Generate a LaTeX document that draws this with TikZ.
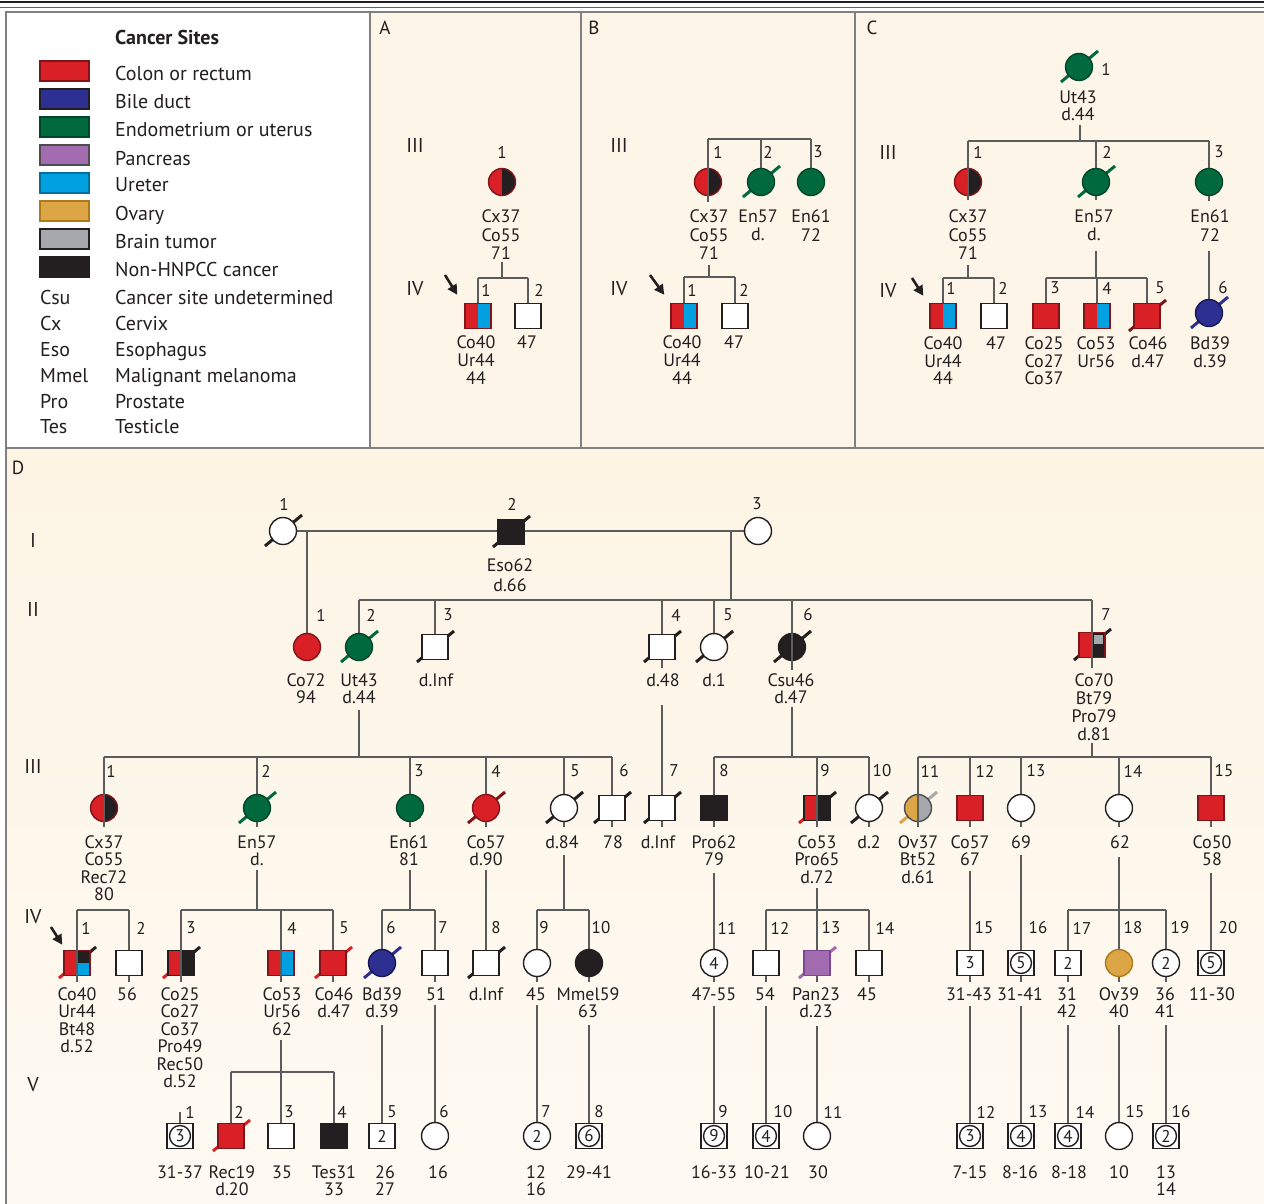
\documentclass[tikz,border=0pt]{standalone}
\usepackage{fontspec}
\setmainfont{PT Sans}
\usetikzlibrary{arrows.meta}
\pgfdeclarelayer{back}
\pgfdeclarelayer{bg}
\pgfsetlayers{back,bg,main}
\definecolor{cream}{RGB}{253,245,232}
\definecolor{creamT}{RGB}{253,244,228}
\definecolor{creamB}{RGB}{254,250,243}
\definecolor{framec}{RGB}{128,128,128}
\definecolor{connc}{RGB}{92,92,92}
\definecolor{txt}{RGB}{35,31,32}
\definecolor{cRed}{RGB}{218,32,39}
\definecolor{cRedD}{RGB}{128,20,24}
\definecolor{cNavy}{RGB}{45,48,145}
\definecolor{cNavyD}{RGB}{22,22,80}
\definecolor{cGreen}{RGB}{0,106,62}
\definecolor{cGreenD}{RGB}{0,70,40}
\definecolor{cPurple}{RGB}{163,108,176}
\definecolor{cPurpleD}{RGB}{125,70,145}
\definecolor{cBlue}{RGB}{0,160,225}
\definecolor{cOrange}{RGB}{220,165,70}
\definecolor{cOrangeD}{RGB}{175,120,25}
\definecolor{cGray}{RGB}{165,168,172}
\definecolor{cBlack}{RGB}{35,31,32}
\newcounter{lbl}
\newcommand\Lb[4][17.4]{\stepcounter{lbl}\node[lab,font=\fontsize{18}{#1}\selectfont] (lb\arabic{lbl}) at (#2,#3-6.5) {#4};}
\newcommand\Nm[3]{\stepcounter{lbl}\node[num] (nm\arabic{lbl}) at (#1,#2) {#3};}
\newcommand\Gl[3]{\stepcounter{lbl}\node[gen] (gl\arabic{lbl}) at (#1,#2) {#3};}
\newcommand\SL[2]{\draw[sl,#2] ([shift={(-18,15)}]#1.center) -- ([shift={(19,-16)}]#1.center);}
\newcommand\SLL[2]{\draw[sl,#2] (#1.center) -- ([shift={(-18,15)}]#1.center);}
\newcommand\SUR[2]{\draw[sl,#2] (#1.center) -- ([shift={(19,-16)}]#1.center);}
\newcommand\Dr[2]{\draw[conn] (#1 |- #2) -- (#1.center);}
\newcommand\Ds[3]{\draw[conn] (#1 |- #2) -- ([shift={(0,#3)}]#1.center);}
\newcommand\Br[3]{\draw[conn] (#1 |- #3) -- (#2 |- #3);}
\newcommand\St[2]{\draw[conn] (#1) -- (#2);}
\newcommand\Th[1]{\draw[conn,line width=1.7pt] (#1.north) -- (#1.south);}
\begin{document}
\begin{tikzpicture}[x=1pt,y=-1pt,
 conn/.style={draw=connc,line width=2.5pt},
 sl/.style={line width=3pt},
 person/.style={inner sep=0pt,line width=1.4pt,draw=txt,fill=white,text=txt,font=\fontsize{17}{17}\selectfont},
 sq/.style={person,rectangle,minimum width=26pt,minimum height=25pt},
 ci/.style={person,circle,minimum size=27pt},
 sqc/.style={sq,line width=1.8pt,path picture={\draw[txt,line width=1.4pt] (path picture bounding box.center) circle (10.5pt);}},
 fR/.style={fill=cRed,draw=cRedD},
 fG/.style={fill=cGreen,draw=cGreenD},
 fN/.style={fill=cNavy,draw=cNavyD},
 fP/.style={fill=cPurple,draw=cPurpleD},
 fO/.style={fill=cOrange,draw=cOrangeD},
 fK/.style={fill=cBlack,draw=txt},
 halves/.style 2 args={path picture={
   \fill[#1] (path picture bounding box.south west) rectangle (path picture bounding box.north);
   \fill[#2] (path picture bounding box.south) rectangle (path picture bounding box.north east);}},
 quarters/.style n args={3}{path picture={
   \fill[#1] (path picture bounding box.south west) rectangle (path picture bounding box.north);
   \fill[#2] (path picture bounding box.center) rectangle (path picture bounding box.north east);
   \fill[#3] (path picture bounding box.south) rectangle (path picture bounding box.east);}},
 lab/.style={anchor=north,align=center,inner sep=0pt,text=txt},
 num/.style={inner sep=0pt,text=txt,font=\fontsize{17}{17}\selectfont},
 plet/.style={inner sep=0pt,text=txt,font=\fontsize{19}{19}\selectfont},
 gen/.style={inner sep=0pt,text=txt,font=\fontsize{20}{20}\selectfont},
 swatch/.style={rectangle,minimum width=49pt,minimum height=20pt,inner sep=0pt,line width=1.3pt},
 legt/.style={anchor=base west,inner sep=0pt,text=txt,font=\fontsize{20}{20}\selectfont},
 arr/.style={-{Triangle[length=10pt,width=10pt]},line width=2.6pt,draw=txt,fill=txt}
]
\useasboundingbox (0,0) rectangle (1264,1204);
\begin{pgfonlayer}{back}
\fill[white] (0,0) rectangle (1264,1204);
\fill[cream] (370,12) rectangle (1264,448);
\shade[top color=creamT,bottom color=creamB] (6,448) rectangle (1264,1204);
\draw[txt,line width=1.8pt] (0,2) -- (1264,2);
\draw[txt!70,line width=0.9pt] (0,7) -- (1264,7);
\draw[framec,line width=2pt] (1264,12) -- (6,12) -- (6,1204);
\draw[framec,line width=2pt] (6,448) -- (1264,448);
\draw[framec,line width=2pt] (370,12) -- (370,448);
\draw[framec,line width=2pt] (581,12) -- (581,448);
\draw[framec,line width=2pt] (855,12) -- (855,448);
\end{pgfonlayer}

% ---------------- Legend
\node[anchor=base west,inner sep=0pt,text=txt,font=\bfseries\fontsize{20}{20}\selectfont] (legtitle) at (115,45) {Cancer Sites};
\node[swatch,fill=cRed,draw=cRedD] (sw1) at (64.5,71) {};
\node[swatch,fill=cNavy,draw=txt] (sw2) at (64.5,99) {};
\node[swatch,fill=cGreen,draw=cGreenD] (sw3) at (64.5,127) {};
\node[swatch,fill=cPurple,draw=txt!80] (sw4) at (64.5,155) {};
\node[swatch,fill=cBlue,draw=cBlue!70!black] (sw5) at (64.5,183) {};
\node[swatch,fill=cOrange,draw=cOrangeD] (sw6) at (64.5,211) {};
\node[swatch,fill=cGray,draw=txt] (sw7) at (64.5,239) {};
\node[swatch,fill=cBlack,draw=cBlack] (sw8) at (64.5,267) {};
\node[legt] (lg1) at (115,81) {Colon or rectum};
\node[legt] (lg2) at (115,109) {Bile duct};
\node[legt] (lg3) at (115,137) {Endometrium or uterus};
\node[legt] (lg4) at (115,165) {Pancreas};
\node[legt] (lg5) at (115,192) {Ureter};
\node[legt] (lg6) at (115,220) {Ovary};
\node[legt] (lg7) at (115,248) {Brain tumor};
\node[legt] (lg8) at (115,276) {Non-HNPCC cancer};
\node[legt] (ab1) at (40,304) {Csu};  \node[legt] (lg9) at (115,304) {Cancer site undetermined};
\node[legt] (ab2) at (40,330) {Cx};   \node[legt] (lg10) at (115,330) {Cervix};
\node[legt] (ab3) at (40,356) {Eso};  \node[legt] (lg11) at (115,356) {Esophagus};
\node[legt] (ab4) at (40,382) {Mmel}; \node[legt] (lg12) at (115,382) {Malignant melanoma};
\node[legt] (ab5) at (40,408) {Pro};  \node[legt] (lg13) at (115,408) {Prostate};
\node[legt] (ab6) at (40,433) {Tes};  \node[legt] (lg14) at (115,433) {Testicle};

% ---------------- Panel letters and generation labels
\node[plet] (pA) at (385,28) {A};
\node[plet] (pB) at (594,28) {B};
\node[plet] (pC) at (872,28) {C};
\node[plet] (pD) at (18,468) {D};
\Gl{415}{146}{III} \Gl{415}{289}{IV}
\Gl{619}{146}{III} \Gl{619}{289}{IV}
\Gl{888}{153}{III} \Gl{888}{291}{IV}
\Gl{33}{540}{I} \Gl{33}{609}{II} \Gl{33}{766}{III} \Gl{33}{917}{IV} \Gl{33}{1085}{V}

% ---------------- Panel A
\node[ci,draw=cRedD,halves={cRed}{cBlack}] (A31) at (502,182) {};
\node[sq,draw=cRedD,halves={cRed}{cBlue}] (A41) at (478,316) {};
\node[sq] (A42) at (528,316) {};
\coordinate (aS) at (502,262); \coordinate (aB) at (502,278);
\Nm{502}{152}{1} \Nm{486}{290}{1} \Nm{539}{290}{2}
\Lb[18.5]{501}{216}{Cx37\\Co55\\71}
\Lb[18]{476}{342}{Co40\\Ur44\\44}
\Lb{527}{342}{47}
\coordinate (arA) at (445,275);
\draw[arr] (arA) -- ([shift={(-7,-8)}]A41.north west);

% ---------------- Panel B
\node[ci,draw=cRedD,halves={cRed}{cBlack}] (B31) at (708,182) {};
\node[ci,fG] (B32) at (761,182) {};
\node[ci,fG] (B33) at (811,182) {};
\node[sq,draw=cRedD,halves={cRed}{cBlue}] (B41) at (684,316) {};
\node[sq] (B42) at (735,316) {};
\Th{B31}
\coordinate (bB3) at (760,139);
\coordinate (bS) at (709,265); \coordinate (bB) at (709,277);
\Nm{718}{152}{1} \Nm{768}{152}{2} \Nm{818}{152}{3}
\Nm{692}{290}{1} \Nm{744}{290}{2}
\Lb[18.5]{709}{216}{Cx37\\Co55\\71}
\Lb[18.5]{758}{216}{En57\\d.}
\Lb[18.5]{811}{216}{En61\\72}
\Lb[18]{682}{342}{Co40\\Ur44\\44}
\Lb{734}{342}{47}
\coordinate (arB) at (650,275);
\draw[arr] (arB) -- ([shift={(-6,-8)}]B41.north west);

% ---------------- Panel C
\node[ci,fG] (C21) at (1079,67) {};
\node[ci,draw=cRedD,halves={cRed}{cBlack}] (C31) at (968,182) {};
\node[ci,fG] (C32) at (1096,182) {};
\node[ci,fG] (C33) at (1209,182) {};
\node[sq,draw=cRedD,halves={cRed}{cBlue}] (C41) at (943,316) {};
\node[sq] (C42) at (994,316) {};
\node[sq,fR] (C43) at (1046,316) {};
\node[sq,draw=cRedD,halves={cRed}{cBlue}] (C44) at (1097,316) {};
\node[sq,fR] (C45) at (1147,316) {};
\node[ci,fN] (C46) at (1209,313) {};
\Th{C31}
\coordinate (cS1) at (1080,125); \coordinate (cB3) at (1080,141);
\coordinate (cS41) at (968,265); \coordinate (cB41) at (968,278);
\coordinate (cS42) at (1096,251); \coordinate (cB42) at (1096,278);
\coordinate (cS43) at (1209,251);
\Nm{1106}{69}{1}
\Nm{978}{152}{1} \Nm{1107}{152}{2} \Nm{1219}{152}{3}
\Nm{951}{288}{1} \Nm{1003}{288}{2} \Nm{1055}{288}{3} \Nm{1107}{288}{4} \Nm{1160}{288}{5} \Nm{1223}{288}{6}
\Lb[17]{1078}{97}{Ut43\\d.44}
\Lb[18.5]{968}{216}{Cx37\\Co55\\71}
\Lb[18.5]{1094}{216}{En57\\d.}
\Lb[18.5]{1210}{216}{En61\\72}
\Lb[17.5]{943}{343}{Co40\\Ur44\\44}
\Lb{996}{343}{47}
\Lb[17.5]{1044}{343}{Co25\\Co27\\Co37}
\Lb[17.5]{1096}{343}{Co53\\Ur56}
\Lb[17.5]{1148}{343}{Co46\\d.47}
\Lb[17.5]{1210}{343}{Bd39\\d.39}
\coordinate (arC) at (912,278);
\draw[arr] (arC) -- ([shift={(-6,-7)}]C41.north west);

% ---------------- Panel D persons
% generation I
\node[ci] (D11) at (283,531) {};
\node[sq,fK] (D12) at (511,532) {};
\node[ci] (D13) at (758,531) {};
% generation II
\node[ci,fR] (D21) at (307,647) {};
\node[ci,fG] (D22) at (359,647) {};
\node[sq] (D23) at (435,647) {};
\node[sq] (D24) at (662,647) {};
\node[ci] (D25) at (714,647) {};
\node[ci,fK] (D26) at (792,647) {};
\node[sq,draw=cRedD,path picture={
   \fill[cRed] (path picture bounding box.south west) rectangle (path picture bounding box.north);
   \fill[cBlack] (path picture bounding box.south) rectangle (path picture bounding box.north east);
   \fill[cGray,draw=txt,line width=0.6pt] ([shift={(1,-11)}]path picture bounding box.center) rectangle ([shift={(11.5,-1)}]path picture bounding box.center);}] (D27) at (1092,645) {};
% generation III
\node[ci,draw=cRedD,halves={cRed}{cBlack}] (D31) at (104,808) {};
\node[ci,fG] (D32) at (257,808) {};
\node[ci,fG] (D33) at (410,808) {};
\node[ci,fR] (D34) at (486,808) {};
\node[ci] (D35) at (564,808) {};
\node[sq] (D36) at (612,808) {};
\node[sq] (D37) at (662,808) {};
\node[sq,fK] (D38) at (714,808) {};
\node[sq,draw=txt,halves={cRed}{cBlack}] (D39) at (817,808) {};
\node[ci] (D310) at (869,808) {};
\node[ci,draw=txt!80,halves={cOrange}{cGray}] (D311) at (918,808) {};
\node[sq,fR] (D312) at (970,808) {};
\node[ci] (D313) at (1021,808) {};
\node[ci] (D314) at (1119,808) {};
\node[sq,fR] (D315) at (1211,808) {};
% generation IV
\node[sq,draw=cRedD,quarters={cRed}{cBlack}{cBlue}] (D41) at (77,963) {};
\node[sq] (D42) at (129,963) {};
\node[sq,draw=txt,halves={cRed}{cBlack}] (D43) at (181,963) {};
\node[sq,draw=cRedD,halves={cRed}{cBlue}] (D44) at (281,963) {};
\node[sq,fR] (D45) at (333,963) {};
\node[ci,fN] (D46) at (382,963) {};
\node[sq] (D47) at (435,963) {};
\node[sq] (D48) at (486,963) {};
\node[ci] (D49) at (537,963) {};
\node[ci,fK] (D410) at (589,963) {};
\node[ci] (D411) at (714,963) {4};
\node[sq] (D412) at (766,963) {};
\node[sq,fP] (D413) at (817,963) {};
\node[sq] (D414) at (869,963) {};
\node[sq] (D415) at (970,963) {3};
\node[sqc] (D416) at (1021,963) {5};
\node[sq] (D417) at (1068,963) {2};
\node[ci,fO] (D418) at (1119,963) {};
\node[ci] (D419) at (1166,963) {2};
\node[sqc] (D420) at (1211,963) {5};
% generation V
\node[sqc] (D51) at (180,1136) {3};
\node[sq,fR] (D52) at (231,1136) {};
\node[sq] (D53) at (281,1136) {};
\node[sq,fK] (D54) at (334,1136) {};
\node[sq] (D55) at (382,1136) {2};
\node[ci] (D56) at (435,1136) {};
\node[ci] (D57) at (537,1136) {2};
\node[sqc] (D58) at (589,1136) {6};
\node[sqc] (D59) at (714,1136) {9};
\node[sqc] (D510) at (766,1136) {4};
\node[ci] (D511) at (817,1136) {};
\node[sqc] (D512) at (970,1136) {3};
\node[sqc] (D513) at (1021,1136) {4};
\node[sqc] (D514) at (1068,1136) {4};
\node[ci] (D515) at (1119,1136) {};
\node[sqc] (D516) at (1166,1136) {2};
\Th{D26} \Th{D27} \Th{D31} \Th{D39} \Th{D311} \Th{D41} \Th{D43} \Th{D44}

% ---------------- Panel D coordinates for bars
\coordinate (dM) at (731,532); \coordinate (dB2) at (731,600);
\coordinate (dS31) at (359,710); \coordinate (dB31) at (359,757);
\coordinate (dS37) at (662,705);
\coordinate (dS32) at (792,707); \coordinate (dB32) at (792,757);
\coordinate (dS33) at (1092,743); \coordinate (dB33) at (1092,757);
\coordinate (dB41) at (104,910);
\coordinate (dS42) at (257,870); \coordinate (dB42) at (257,910);
\coordinate (dS43) at (410,870); \coordinate (dB43) at (410,910);
\coordinate (dS44) at (486,870);
\coordinate (dS45) at (564,855); \coordinate (dB45) at (564,910);
\coordinate (dS46) at (714,873);
\coordinate (dS47) at (817,888); \coordinate (dB47) at (817,910);
\coordinate (dS48) at (970,871);
\coordinate (dS49) at (1021,855);
\coordinate (dS410) at (1119,857); \coordinate (dB410) at (1119,910);
\coordinate (dS411) at (1211,873);
\coordinate (dS51) at (281,1040); \coordinate (dB51) at (281,1072);
\coordinate (dS50) at (180,1112);
\coordinate (dS52) at (382,1025);
\coordinate (dS53) at (435,1005);
\coordinate (dS54) at (537,1005);
\coordinate (dS55) at (589,1025);
\coordinate (dS56) at (714,1006);
\coordinate (dS57) at (766,1006);
\coordinate (dS58) at (817,1026);
\coordinate (dS59) at (970,1006);
\coordinate (dS510) at (1021,1006);
\coordinate (dS511) at (1068,1025);
\coordinate (dS512) at (1119,1025);
\coordinate (dS513) at (1166,1025);
\coordinate (arD) at (51,927);
\draw[arr] (arD) -- ([shift={(-1,-5)}]D41.north west);

% ---------------- Panel D numbers
\Nm{284}{504}{1} \Nm{512}{504}{2} \Nm{757}{504}{3}
\Nm{321}{615}{1} \Nm{371}{615}{2} \Nm{448}{615}{3} \Nm{676}{615}{4} \Nm{728}{615}{5} \Nm{808}{615}{6} \Nm{1106}{615}{7}
\Nm{111}{771}{1} \Nm{266}{771}{2} \Nm{419}{771}{3} \Nm{496}{771}{4} \Nm{575}{771}{5} \Nm{624}{771}{6}
\Nm{674}{771}{7} \Nm{724}{771}{8} \Nm{825}{771}{9} \Nm{882}{771}{10} \Nm{930}{771}{11} \Nm{985}{771}{12}
\Nm{1036}{771}{13} \Nm{1133}{771}{14} \Nm{1224}{771}{15}
\Nm{86}{928}{1} \Nm{141}{928}{2} \Nm{191}{928}{3} \Nm{292}{928}{4} \Nm{344}{928}{5} \Nm{391}{928}{6}
\Nm{443}{928}{7} \Nm{496}{928}{8} \Nm{544}{928}{9} \Nm{601}{928}{10} \Nm{727}{928}{11} \Nm{780}{928}{12}
\Nm{831}{928}{13} \Nm{885}{928}{14} \Nm{984}{928}{15} \Nm{1038}{928}{16} \Nm{1082}{928}{17} \Nm{1133}{928}{18}
\Nm{1180}{928}{19} \Nm{1228}{928}{20}
\Nm{190}{1112}{1} \Nm{239}{1112}{2} \Nm{289}{1112}{3} \Nm{342}{1112}{4} \Nm{392}{1112}{5} \Nm{444}{1112}{6}
\Nm{546}{1112}{7} \Nm{599}{1112}{8} \Nm{723}{1112}{9} \Nm{783}{1112}{10} \Nm{833}{1112}{11} \Nm{986}{1112}{12}
\Nm{1038}{1112}{13} \Nm{1085}{1112}{14} \Nm{1135}{1112}{15} \Nm{1181}{1112}{16}

% ---------------- Panel D labels
\Lb[20]{510}{565}{Eso62\\d.66}
\Lb{306}{680}{Co72\\94}
\Lb{359}{680}{Ut43\\d.44}
\Lb{436}{680}{d.Inf}
\Lb{663}{680}{d.48}
\Lb{714}{680}{d.1}
\Lb{791}{680}{Csu46\\d.47}
\Lb[18]{1094}{680}{Co70\\Bt79\\Pro79\\d.81}
\Lb{104}{842}{Cx37\\Co55\\Rec72\\80}
\Lb{257}{842}{En57\\d.}
\Lb{409}{842}{En61\\81}
\Lb{486}{842}{Co57\\d.90}
\Lb{562}{842}{d.84}
\Lb{613}{842}{78}
\Lb{658}{842}{d.Inf}
\Lb{714}{842}{Pro62\\79}
\Lb{817}{842}{Co53\\Pro65\\d.72}
\Lb{869}{842}{d.2}
\Lb{918}{842}{Ov37\\Bt52\\d.61}
\Lb{970}{842}{Co57\\67}
\Lb{1021}{842}{69}
\Lb{1120}{842}{62}
\Lb{1212}{842}{Co50\\58}
\Lb{77}{994}{Co40\\Ur44\\Bt48\\d.52}
\Lb{127}{994}{56}
\Lb{180}{994}{Co25\\Co27\\Co37\\Pro49\\Rec50\\d.52}
\Lb{282}{994}{Co53\\Ur56\\62}
\Lb{334}{994}{Co46\\d.47}
\Lb{382}{994}{Bd39\\d.39}
\Lb{436}{994}{51}
\Lb{486}{994}{d.Inf}
\Lb{536}{994}{45}
\Lb{588}{994}{Mmel59\\63}
\Lb{714}{994}{47-55}
\Lb{765}{994}{54}
\Lb{816}{994}{Pan23\\d.23}
\Lb{867}{994}{45}
\Lb{969}{994}{31-43}
\Lb{1020}{994}{31-41}
\Lb{1067}{994}{31\\42}
\Lb{1119}{994}{Ov39\\40}
\Lb{1165}{994}{36\\41}
\Lb{1212}{994}{11-30}
\Lb{180}{1172}{31-37}
\Lb{232}{1172}{Rec19\\d.20}
\Lb{282}{1172}{35}
\Lb{334}{1172}{Tes31\\33}
\Lb{385}{1172}{26\\27}
\Lb{438}{1172}{16}
\Lb{536}{1172}{12\\16}
\Lb{589}{1172}{29-41}
\Lb{714}{1172}{16-33}
\Lb{767}{1172}{10-21}
\Lb{818}{1172}{30}
\Lb{970}{1172}{7-15}
\Lb{1020}{1172}{8-16}
\Lb{1069}{1172}{8-18}
\Lb{1119}{1172}{10}
\Lb{1166}{1172}{13\\14}

% ---------------- connectors and slashes (behind symbols)
\begin{pgfonlayer}{bg}
% A
\St{aS}{aB} \Br{A41}{A42}{aB} \Dr{A41}{aB} \Dr{A42}{aB}
% B
\Br{B31}{B33}{bB3} \Ds{B31}{bB3}{20} \Dr{B32}{bB3} \Dr{B33}{bB3}
\SL{B32}{cGreen}
\St{bS}{bB} \Br{B41}{B42}{bB} \Dr{B41}{bB} \Dr{B42}{bB}
% C
\SL{C21}{cGreen}
\St{cS1}{cB3} \Br{C31}{C33}{cB3} \Ds{C31}{cB3}{18} \Ds{C32}{cB3}{18} \Ds{C33}{cB3}{19}
\SL{C32}{cGreen}
\St{cS41}{cB41} \Br{C41}{C42}{cB41} \Dr{C41}{cB41} \Dr{C42}{cB41}
\St{cS42}{cB42} \Br{C43}{C45}{cB42} \Dr{C43}{cB42} \Dr{C44}{cB42} \Dr{C45}{cB42}
\St{cS43}{C46}
\SL{C45}{cRedD} \SL{C46}{cNavy}
% D generation I-II
\draw[conn] (D11) -- (D13);
\draw[conn] (D11 -| D21) -- (D21);
\St{dM}{dB2} \Br{D22}{D27}{dB2}
\Dr{D22}{dB2} \Dr{D23}{dB2} \Ds{D24}{dB2}{21} \Dr{D25}{dB2} \Ds{D26}{dB2}{23} \Ds{D27}{dB2}{23}
\SL{D11}{txt} \SL{D12}{txt}
\SL{D22}{cGreen} \SL{D23}{txt} \SL{D24}{txt} \SL{D25}{txt} \SL{D26}{txt} \SL{D27}{txt}
% II -> III
\St{dS31}{dB31} \Br{D31}{D36}{dB31}
\Ds{D31}{dB31}{19} \Ds{D32}{dB31}{19} \Ds{D33}{dB31}{19} \Ds{D34}{dB31}{19} \Ds{D35}{dB31}{19} \Ds{D36}{dB31}{19}
\draw[conn] (dS37) -- ([shift={(0,19)}]D37.center);
\St{dS32}{dB32} \Br{D38}{D310}{dB32}
\Ds{D38}{dB32}{19} \Ds{D39}{dB32}{19} \Ds{D310}{dB32}{19}
\St{dS33}{dB33} \Br{D311}{D315}{dB33}
\Ds{D311}{dB33}{19} \Ds{D312}{dB33}{19} \Ds{D313}{dB33}{19} \Ds{D314}{dB33}{19} \Ds{D315}{dB33}{19}
\SL{D32}{cGreen} \SL{D34}{cRedD} \SL{D35}{txt} \SL{D36}{txt} \SL{D37}{txt} \SL{D310}{txt}
\SLL{D39}{cRed} \SUR{D39}{txt} \SLL{D311}{cOrange} \SUR{D311}{cGray}
% III -> IV
\Br{D41}{D42}{dB41} \Ds{D41}{dB41}{19} \Ds{D42}{dB41}{19}
\St{dS42}{dB42} \Br{D43}{D45}{dB42} \Ds{D43}{dB42}{19} \Ds{D44}{dB42}{19} \Ds{D45}{dB42}{19}
\St{dS43}{dB43} \Br{D46}{D47}{dB43} \Dr{D46}{dB43} \Ds{D47}{dB43}{19}
\St{dS44}{D48}
\St{dS45}{dB45} \Br{D49}{D410}{dB45} \Ds{D49}{dB45}{19} \Ds{D410}{dB45}{19}
\draw[conn] (dS46) -- ([shift={(0,19)}]D411.center);
\St{dS47}{dB47} \Br{D412}{D414}{dB47} \Ds{D412}{dB47}{19} \Ds{D413}{dB47}{19} \Ds{D414}{dB47}{19}
\draw[conn] (dS48) -- ([shift={(0,19)}]D415.center);
\draw[conn] (dS49) -- ([shift={(0,19)}]D416.center);
\St{dS410}{dB410} \Br{D417}{D419}{dB410} \Ds{D417}{dB410}{19} \Ds{D418}{dB410}{19} \Ds{D419}{dB410}{19}
\St{dS411}{D420}
\SLL{D41}{cRed} \SUR{D41}{txt} \SLL{D43}{cRed} \SUR{D43}{txt}
\SL{D45}{cRed} \SL{D46}{cNavy} \SL{D48}{txt} \SL{D413}{cPurple}
% IV -> V
\St{dS51}{dB51} \Br{D52}{D54}{dB51} \Dr{D52}{dB51} \Dr{D53}{dB51} \Dr{D54}{dB51}
\St{dS50}{D51}
\St{dS52}{D55} \St{dS53}{D56} \St{dS54}{D57} \St{dS55}{D58}
\St{dS56}{D59} \St{dS57}{D510} \St{dS58}{D511} \St{dS59}{D512} \St{dS510}{D513}
\St{dS511}{D514} \St{dS512}{D515} \St{dS513}{D516}
\SL{D52}{cRed}
\end{pgfonlayer}
\end{tikzpicture}
\end{document}
